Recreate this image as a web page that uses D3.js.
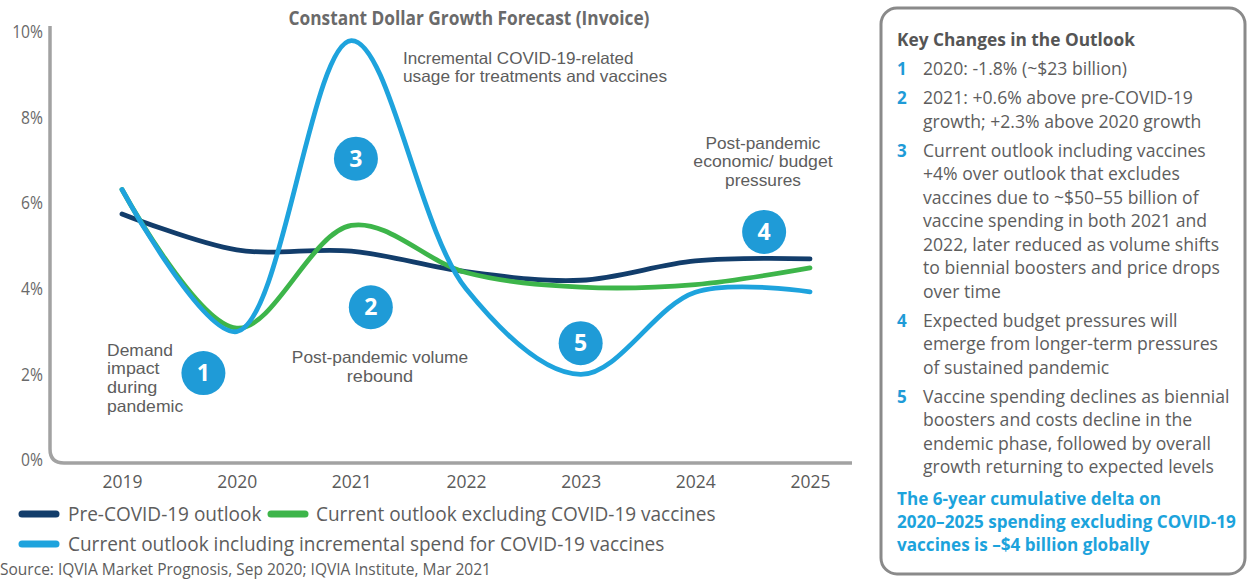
<!DOCTYPE html>
<html><head><meta charset="utf-8">
<script src="https://cdn.jsdelivr.net/npm/d3@7"></script>
<style>
html,body{margin:0;padding:0;background:#fff;}
svg{display:block;font-family:"Open Sans","Noto Sans",sans-serif;}
</style></head>
<body><svg id="c" width="1250" height="579"></svg>
<script>
// ---- data ----
const years = [2019, 2020, 2021, 2022, 2023, 2024, 2025];
const preCovid = [5.75, 4.91, 4.88, 4.4, 4.2, 4.65, 4.7];
const exclVaccines = [6.32, 3.08, 5.48, 4.38, 4.04, 4.1, 4.49];
const inclVaccines = [6.32, 3.0, 9.8, 4.0, 2.0, 3.92, 3.93];
const yTicks = [0, 2, 4, 6, 8, 10];
const seriesNames = ["Pre-COVID-19 outlook", "Current outlook excluding COVID-19 vaccines", "Current outlook including incremental spend for COVID-19 vaccines"];
const markers = [ {n:"1", yr:2019.71, v:2.03}, {n:"2", yr:2021.17, v:3.57}, {n:"3", yr:2021.04, v:7.04}, {n:"4", yr:2024.6, v:5.33}, {n:"5", yr:2023.0, v:2.73} ];
const notes = [
  {yr:2018.87, v:2.44, anchor:"start", lines:["Demand","impact","during","pandemic"]},
  {yr:2021.25, v:2.255, anchor:"middle", lines:["Post-pandemic volume","rebound"]},
  {yr:2021.45, v:9.264, anchor:"start", lines:["Incremental COVID-19-related","usage for treatments and vaccines"]},
  {yr:2024.59, v:7.278, anchor:"middle", lines:["Post-pandemic","economic/ budget","pressures"]}
];
const keyTitle = "Key Changes in the Outlook";
const keyItems = [
  {n:"1", lines:["2020: -1.8% (~$23 billion)"]},
  {n:"2", lines:["2021: +0.6% above pre-COVID-19","growth; +2.3% above 2020 growth"]},
  {n:"3", lines:["Current outlook including vaccines","+4% over outlook that excludes","vaccines due to ~$50–55 billion of","vaccine spending in both 2021 and","2022, later reduced as volume shifts","to biennial boosters and price drops","over time"]},
  {n:"4", lines:["Expected budget pressures will","emerge from longer-term pressures","of sustained pandemic"]},
  {n:"5", lines:["Vaccine spending declines as biennial","boosters and costs decline in the","endemic phase, followed by overall","growth returning to expected levels"]}
];
const keyFooter = ["The 6-year cumulative delta on","2020–2025 spending excluding COVID-19","vaccines is –$4 billion  globally"];
const source = "Source: IQVIA Market Prognosis, Sep 2020; IQVIA Institute, Mar 2021";

// ---- colors ----
const cNavy = "#123d6b", cGreen = "#3db54a", cBlue = "#1ea3dd", cMark = "#1f9bd7", cText = "#5d5d5d", cAxis = "#a2a2a2";

const svg = d3.select("#c");
const x = d3.scaleLinear().domain([2019, 2025]).range([122, 810]);
const y = d3.scaleLinear().domain([0, 10]).range([460, 32]);

function condense(sel, k) {
  sel.each(function () {
    const w = this.getComputedTextLength();
    d3.select(this).attr("textLength", w * k).attr("lengthAdjust", "spacingAndGlyphs");
  });
}
// measure in Open Sans, draw in a tighter-metric face at the same width
function tightFace(sel) {
  sel.each(function () {
    const w = this.getComputedTextLength();
    d3.select(this).attr("font-family", "Liberation Sans").attr("textLength", w).attr("lengthAdjust", "spacingAndGlyphs");
  });
}

// title
svg.append("text").attr("x", 469).attr("y", 25).attr("text-anchor", "middle")
  .attr("font-size", 19).attr("font-weight", 700).attr("fill", "#6a6a6a")
  .text("Constant Dollar Growth Forecast (Invoice)").call(condense, 0.91);

// axes frame (L shape with rounded corner)
const ax0 = 50, ayBot = 463, r = 14;
svg.append("path")
  .attr("d", `M${ax0},26 L${ax0},${ayBot - r} Q${ax0},${ayBot} ${ax0 + r},${ayBot} L852,${ayBot}`)
  .attr("fill", "none").attr("stroke", cAxis).attr("stroke-width", 3.5);

// y tick labels via axis
const yAxis = svg.append("g").attr("transform", `translate(${ax0},0)`)
  .call(d3.axisLeft(y).tickValues(yTicks).tickSize(0).tickPadding(7).tickFormat(d => d + "%"));
yAxis.select(".domain").remove();
yAxis.selectAll("text").attr("font-size", 18).attr("fill", "#6a6a6a").attr("font-family", "Open Sans").call(condense, 0.87);

// x tick labels via axis
const xAxis = svg.append("g").attr("transform", `translate(0,${ayBot})`)
  .call(d3.axisBottom(x).tickValues(years).tickSize(0).tickPadding(12).tickFormat(d3.format("d")));
xAxis.select(".domain").remove();
xAxis.selectAll("text").attr("font-size", 19).attr("fill", "#5a5a5a").attr("font-family", "Open Sans").call(condense, 0.92);

// lines
const line = d3.line().x((d, i) => x(years[i])).y(d => y(d)).curve(d3.curveCatmullRom.alpha(0.5));
[[preCovid, cNavy], [exclVaccines, cGreen], [inclVaccines, cBlue]].forEach(([s, c]) => {
  svg.append("path").attr("d", line(s)).attr("fill", "none").attr("stroke", c)
    .attr("stroke-width", 4.8).attr("stroke-linecap", "round");
});

// notes (one text per line)
notes.forEach(nt => {
  nt.lines.forEach((l, i) => {
    svg.append("text").attr("x", x(nt.yr)).attr("y", y(nt.v) + i * 18.8).attr("text-anchor", nt.anchor)
      .attr("font-size", 16.5).attr("fill", cText).text(l).call(tightFace);
  });
});

// numbered markers
const mk = svg.append("g").selectAll("g").data(markers).join("g")
  .attr("transform", d => `translate(${x(d.yr)},${y(d.v)})`);
mk.append("circle").attr("r", 22).attr("fill", cMark);
mk.append("text").attr("text-anchor", "middle").attr("dy", "0.36em").attr("font-size", 23)
  .attr("font-weight", 700).attr("fill", "#fff").text(d => d.n);

// legend
const lg = [
  {x: 18, y: 514, tx: 68, c: cNavy, t: seriesNames[0]},
  {x: 267, y: 514, tx: 316, c: cGreen, t: seriesNames[1]},
  {x: 18, y: 544, tx: 68, c: cBlue, t: seriesNames[2]}
];
lg.forEach(d => {
  svg.append("line").attr("x1", d.x + 4).attr("x2", d.x + 38).attr("y1", d.y).attr("y2", d.y)
    .attr("stroke", d.c).attr("stroke-width", 7).attr("stroke-linecap", "round");
  svg.append("text").attr("x", d.tx).attr("y", d.y + 7).attr("font-size", 20).attr("fill", cText)
    .text(d.t).call(condense, 0.95);
});
svg.append("text").attr("x", 0).attr("y", 575).attr("font-size", 16).attr("fill", cText)
  .text(source).call(condense, 0.97);

// key panel
svg.append("rect").attr("x", 881).attr("y", 8).attr("width", 364).attr("height", 566).attr("rx", 16)
  .attr("fill", "#fff").attr("stroke", "#8a8a8a").attr("stroke-width", 3);
svg.append("text").attr("x", 897).attr("y", 46).attr("font-size", 17.3).attr("font-weight", 700)
  .attr("fill", "#555").text(keyTitle);
let yy = 75;
keyItems.forEach(it => {
  svg.append("text").attr("x", 897).attr("y", yy).attr("font-size", 17).attr("font-weight", 700)
    .attr("fill", cMark).text(it.n);
  it.lines.forEach((l, i) => {
    svg.append("text").attr("x", 923).attr("y", yy + i * 23.5).attr("font-size", 17.6).attr("fill", cText).text(l);
  });
  yy += it.lines.length * 23.5 + 5.5;
});
keyFooter.forEach((l, i) => {
  svg.append("text").attr("x", 897).attr("y", 505 + i * 23).attr("font-size", 17.1).attr("font-weight", 700)
    .attr("fill", "#1ca3dc").text(l);
});
</script></body></html>
